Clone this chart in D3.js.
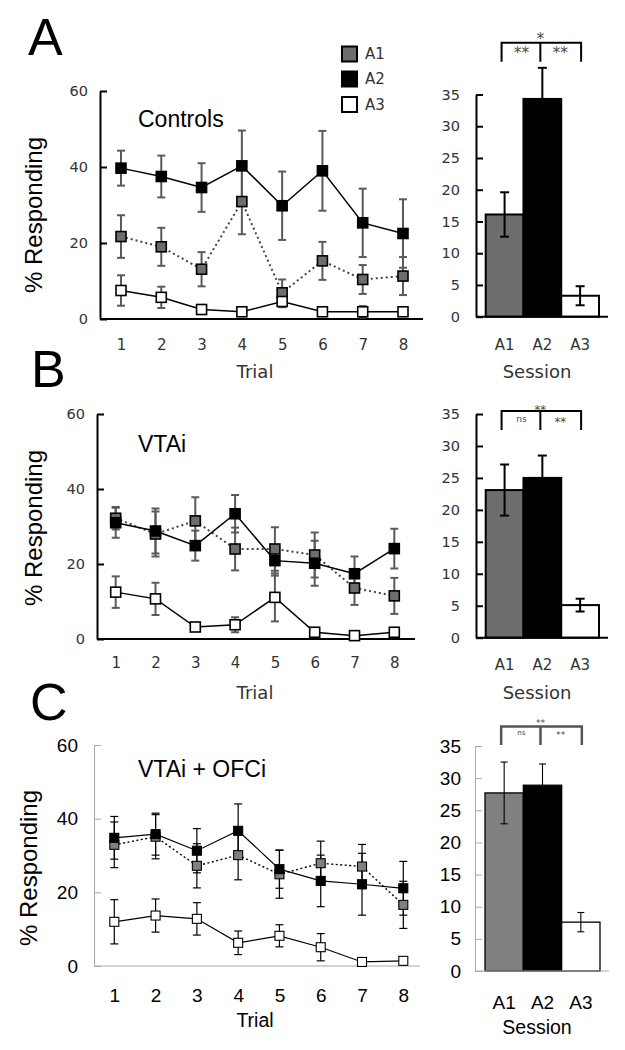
<!DOCTYPE html>
<html><head><meta charset="utf-8">
<script src="https://cdn.jsdelivr.net/npm/d3@7"></script>
<style>body{margin:0;background:#fff} svg{display:block}</style>
</head><body>
<svg id="c" width="625" height="1050"></svg>
<script>
// ---------- DATA ----------
const trials = [1, 2, 3, 4, 5, 6, 7, 8];
const sessions = ["A1", "A2", "A3"];
const lineTicks = [0, 20, 40, 60];
const barTicks = [0, 5, 10, 15, 20, 25, 30, 35];

// Panel A - Controls (per trial)
const ctrlA1 = [21.7, 19.0, 13.1, 30.9, 6.9, 15.3, 10.4, 11.3];
const ctrlA1Err = [5.6, 5.0, 4.5, 8.6, 3.5, 5.0, 3.8, 5.0];
const ctrlA2 = [39.7, 37.5, 34.6, 40.3, 29.8, 39.0, 25.3, 22.5];
const ctrlA2Err = [4.6, 5.5, 6.4, 9.3, 9.0, 10.5, 9.0, 9.0];
const ctrlA3 = [7.5, 5.7, 2.5, 1.9, 4.6, 1.9, 1.9, 1.9];
const ctrlA3Err = [4.0, 2.8, 1.2, 1.0, 1.5, 0.5, 1.5, 0.5];

// Panel B - VTAi
const vtaA1 = [32.2, 28.0, 31.5, 24.0, 24.0, 22.4, 13.6, 11.5];
const vtaA1Err = [3.0, 6.0, 6.3, 5.7, 5.8, 6.0, 4.5, 4.8];
const vtaA2 = [31.0, 28.8, 24.9, 33.4, 20.9, 20.2, 17.4, 24.1];
const vtaA2Err = [4.0, 6.0, 4.0, 5.0, 4.0, 6.0, 4.6, 5.3];
const vtaA3 = [12.5, 10.7, 3.2, 3.8, 11.1, 1.8, 0.9, 1.8];
const vtaA3Err = [4.2, 4.3, 0.8, 2.0, 6.4, 1.0, 0.5, 1.0];

// Panel C - VTAi + OFCi
const combA1 = [32.9, 35.1, 27.2, 30.1, 24.9, 27.9, 27.0, 16.6];
const combA1Err = [6.2, 6.0, 6.0, 6.7, 6.5, 6.0, 6.0, 6.4];
const combA2 = [34.8, 35.8, 31.3, 36.7, 26.3, 23.1, 22.2, 21.1];
const combA2Err = [5.8, 5.7, 6.0, 7.3, 5.2, 7.0, 8.4, 7.3];
const combA3 = [12.0, 13.7, 12.8, 6.3, 8.2, 5.1, 1.1, 1.4];
const combA3Err = [6.0, 4.5, 4.4, 3.2, 3.0, 3.7, 0.3, 0.5];

// Session means
const barCtrl = [16.1, 34.3, 3.3];
const barCtrlErr = [3.5, 4.9, 1.5];
const barVta = [23.1, 25.0, 5.1];
const barVtaErr = [4.0, 3.5, 1.0];
const barComb = [27.7, 28.9, 7.6];
const barCombErr = [4.8, 3.3, 1.5];

const sigCtrl = ["**", "**", "*"];
const sigVta = ["ns", "**", "**"];
const sigComb = ["ns", "**", "**"];

// ---------- DRAWING ----------
const svg = d3.select("#c");
const ARIAL = "Liberation Sans, Arial, sans-serif";
const DEJA = "DejaVu Sans, sans-serif";

function linePanel(cfg) {
  const g = svg.append("g");
  const x = d3.scalePoint().domain(trials).range(cfg.xRange);
  const y = d3.scaleLinear().domain([0, 60]).range([cfg.yBottom, cfg.yTop]);
  const axC = cfg.old ? "#000" : "#a8a8a8";
  const axW = cfg.old ? 2 : 1;

  const ya = g.append("g").attr("transform", `translate(${cfg.axisX},0)`)
    .call(d3.axisLeft(y).tickValues(lineTicks).tickSizeInner(-7).tickSizeOuter(0).tickPadding(cfg.yPad));
  ya.select(".domain").attr("stroke", axC).attr("stroke-width", axW);
  ya.selectAll(".tick line").attr("stroke", axC).attr("stroke-width", axW);
  ya.selectAll("text").attr("font-family", cfg.font).attr("font-size", cfg.yFs).attr("fill", cfg.txt);

  const xa = g.append("g").attr("transform", `translate(0,${cfg.yBottom})`)
    .call(d3.axisBottom(x).tickSize(0));
  xa.select(".domain").remove();
  xa.selectAll("text").attr("y", cfg.xLabY - cfg.yBottom).attr("dy", "0.36em")
    .attr("font-family", cfg.font).attr("font-size", cfg.xFs).attr("fill", cfg.txt);
  g.append("line").attr("x1", cfg.axisX).attr("x2", cfg.xEnd)
    .attr("y1", cfg.yBottom).attr("y2", cfg.yBottom).attr("stroke", axC).attr("stroke-width", axW);

  g.append("text").attr("x", 255).attr("y", cfg.titleY).attr("dy", "0.36em").attr("text-anchor", "middle")
    .attr("font-family", cfg.font).attr("font-size", cfg.titleFs).attr("fill", cfg.txt).text("Trial");
  g.append("text").attr("transform", `translate(${cfg.ylabX},${cfg.ylabY}) rotate(-90)`)
    .attr("text-anchor", "middle").attr("dy", "0.36em")
    .attr("font-family", ARIAL).attr("font-size", 24).attr("fill", "#000").text("% Responding");
  g.append("text").attr("x", 138).attr("y", cfg.condY).attr("font-family", ARIAL)
    .attr("font-size", 23).attr("fill", "#000").text(cfg.cond);

  const series = [
    {v: cfg.a1, e: cfg.a1e, fill: cfg.grey, line: "dot"},
    {v: cfg.a3, e: cfg.a3e, fill: "#fff", line: "solid"},
    {v: cfg.a2, e: cfg.a2e, fill: "#000", line: "solid"}
  ];
  const errC = cfg.old ? "#5a5a5a" : "#000";
  const errW = cfg.old ? 2 : 1.2;
  const cap = 4;
  series.forEach(s => {
    s.v.forEach((v, i) => {
      const cx = x(trials[i]);
      const t = y(v + s.e[i]), b = y(Math.max(0, v - s.e[i]));
      g.append("line").attr("x1", cx).attr("x2", cx).attr("y1", t).attr("y2", b)
        .attr("stroke", errC).attr("stroke-width", errW);
      [t, b].forEach(yy => g.append("line").attr("x1", cx - cap).attr("x2", cx + cap)
        .attr("y1", yy).attr("y2", yy).attr("stroke", errC).attr("stroke-width", errW));
    });
  });
  const lg = d3.line().x((d, i) => x(trials[i])).y(d => y(d));
  series.forEach(s => {
    const p = g.append("path").attr("d", lg(s.v)).attr("fill", "none");
    if (s.line === "dot") {
      p.attr("stroke", cfg.old ? "#444" : "#000").attr("stroke-width", cfg.old ? 2 : 1.4)
       .attr("stroke-dasharray", cfg.old ? "2,3" : "2,2.5");
    } else {
      p.attr("stroke", "#000").attr("stroke-width", cfg.old ? 1.5 : 1.2);
    }
  });
  const ms = cfg.old ? 10 : 9;
  series.forEach(s => {
    g.selectAll(null).data(s.v).enter().append("rect")
      .attr("x", (d, i) => x(trials[i]) - ms / 2).attr("y", d => y(d) - ms / 2)
      .attr("width", ms).attr("height", ms).attr("fill", s.fill)
      .attr("stroke", "#000").attr("stroke-width", cfg.old ? 1.6 : 1.1);
  });
}

function barPanel(cfg) {
  const g = svg.append("g");
  const x = d3.scaleBand().domain(sessions).range(cfg.xRange).padding(0);
  const y = d3.scaleLinear().domain([0, 35]).range([cfg.yBottom, cfg.yTop]);
  const axC = cfg.old ? "#000" : "#a8a8a8";
  const axW = cfg.old ? 2 : 1;
  const fills = [cfg.grey, "#000", "#fff"];

  g.selectAll(null).data(cfg.v).enter().append("rect")
    .attr("x", (d, i) => x(sessions[i])).attr("y", d => y(d))
    .attr("width", x.bandwidth()).attr("height", d => cfg.yBottom - y(d))
    .attr("fill", (d, i) => fills[i]).attr("stroke", "#000").attr("stroke-width", cfg.old ? 2 : 1.3);

  const ya = g.append("g").attr("transform", `translate(${cfg.axisX},0)`)
    .call(d3.axisLeft(y).tickValues(barTicks).tickSizeInner(-7).tickSizeOuter(0).tickPadding(cfg.yPad));
  ya.select(".domain").attr("stroke", axC).attr("stroke-width", axW);
  ya.selectAll(".tick line").attr("stroke", axC).attr("stroke-width", axW);
  ya.selectAll("text").attr("font-family", cfg.font).attr("font-size", cfg.yFs).attr("fill", cfg.txt);

  const xa = g.append("g").attr("transform", `translate(0,${cfg.yBottom})`)
    .call(d3.axisBottom(x).tickSize(0));
  xa.select(".domain").remove();
  xa.selectAll("text").attr("y", cfg.xLabY - cfg.yBottom).attr("dy", "0.36em")
    .attr("font-family", cfg.font).attr("font-size", cfg.xFs).attr("fill", cfg.txt);
  g.append("line").attr("x1", cfg.axisX).attr("x2", cfg.xEnd)
    .attr("y1", cfg.yBottom).attr("y2", cfg.yBottom).attr("stroke", axC).attr("stroke-width", axW);

  g.append("text").attr("x", 537).attr("y", cfg.titleY).attr("dy", "0.36em").attr("text-anchor", "middle")
    .attr("font-family", cfg.font).attr("font-size", cfg.titleFs).attr("fill", cfg.txt).text("Session");

  const errW = cfg.old ? 2 : 1.1;
  const cap = cfg.old ? 4.5 : 3.5;
  cfg.v.forEach((v, i) => {
    const cx = x(sessions[i]) + x.bandwidth() / 2;
    const t = y(v + cfg.e[i]), b = y(v - cfg.e[i]);
    g.append("line").attr("x1", cx).attr("x2", cx).attr("y1", t).attr("y2", b)
      .attr("stroke", "#000").attr("stroke-width", errW);
    [t, b].forEach(yy => g.append("line").attr("x1", cx - cap).attr("x2", cx + cap)
      .attr("y1", yy).attr("y2", yy).attr("stroke", "#000").attr("stroke-width", errW));
  });

  const c = sessions.map(s => x(s) + x.bandwidth() / 2);
  const bC = cfg.old ? "#000" : "#555";
  const bW = cfg.old ? 2 : 2.5;
  g.append("path").attr("fill", "none").attr("stroke", bC).attr("stroke-width", bW)
    .attr("d", `M${c[0] - 3},${cfg.brBot} V${cfg.brTop} H${c[2] + 1} V${cfg.brBot} M${c[1] - 2},${cfg.brTop} V${cfg.brBot}`);
  const lx = [(c[0] + c[1]) / 2 - 2, (c[1] + c[2]) / 2 - 1, c[1] - 2];
  const ly = [cfg.sigY, cfg.sigY, cfg.sigTopY];
  cfg.sig.forEach((s, i) => {
    const star = s.indexOf("*") >= 0;
    g.append("text").attr("x", lx[i]).attr("y", ly[i]).attr("dy", star ? "0.6em" : "0.28em")
      .attr("text-anchor", "middle")
      .attr("font-family", DEJA).attr("font-size", star ? cfg.sigFs * 1.3 : cfg.sigFs)
      .attr("fill", "#4a4a4a").text(s);
  });
}

function letter(t, x, y) {
  svg.append("text").attr("x", x).attr("y", y).attr("font-family", ARIAL)
    .attr("font-size", 52).attr("fill", "#000").text(t);
}

const oldStyle = {old: true, font: DEJA, txt: "#333", yFs: 14.5, xFs: 15, titleFs: 18, grey: "#6d6d6d"};
const newStyle = {old: false, font: ARIAL, txt: "#000", yFs: 19, xFs: 19, titleFs: 19.5, grey: "#808080"};

// Panel A
letter("A", 28, 55);
linePanel(Object.assign({}, oldStyle, {
  xRange: [121, 403], axisX: 100, xEnd: 423, yBottom: 319, yTop: 91, yPad: 12,
  xLabY: 345, titleY: 372, ylabX: 33, ylabY: 215, condY: 127, cond: "Controls",
  a1: ctrlA1, a1e: ctrlA1Err, a2: ctrlA2, a2e: ctrlA2Err, a3: ctrlA3, a3e: ctrlA3Err
}));
barPanel(Object.assign({}, oldStyle, {
  xRange: [485.7, 599], axisX: 476, xEnd: 608, yBottom: 316.7, yTop: 94.5, yPad: 16,
  xLabY: 345, titleY: 372, v: barCtrl, e: barCtrlErr,
  brTop: 42.7, brBot: 61.7, sigY: 49, sigTopY: 35, sigFs: 12, sig: sigCtrl
}));

// Panel B
letter("B", 31, 387);
linePanel(Object.assign({}, oldStyle, {
  xRange: [115.7, 394.3], axisX: 97, xEnd: 415, yBottom: 639, yTop: 414, yPad: 12,
  xLabY: 663, titleY: 693, ylabX: 33, ylabY: 528, condY: 452, cond: "VTAi",
  a1: vtaA1, a1e: vtaA1Err, a2: vtaA2, a2e: vtaA2Err, a3: vtaA3, a3e: vtaA3Err
}));
barPanel(Object.assign({}, oldStyle, {
  xRange: [485.7, 599], axisX: 476, xEnd: 608, yBottom: 637.7, yTop: 414, yPad: 16,
  xLabY: 665, titleY: 693, v: barVta, e: barVtaErr,
  brTop: 411, brBot: 430, sigY: 419, sigTopY: 407, sigFs: 9, sig: sigVta
}));

// Panel C
letter("C", 30, 720);
linePanel(Object.assign({}, newStyle, {
  xRange: [114.3, 403.3], axisX: 94, xEnd: 420, yBottom: 966, yTop: 745, yPad: 16,
  xLabY: 995, titleY: 1020, ylabX: 28, ylabY: 868, condY: 777, cond: "VTAi + OFCi",
  a1: combA1, a1e: combA1Err, a2: combA2, a2e: combA2Err, a3: combA3, a3e: combA3Err
}));
barPanel(Object.assign({}, newStyle, {
  xRange: [485, 600], axisX: 475, xEnd: 609, yBottom: 971, yTop: 746, yPad: 14,
  xLabY: 1002, titleY: 1026.5, v: barComb, e: barCombErr,
  brTop: 726.5, brBot: 745, sigY: 733, sigTopY: 721, sigFs: 7, sig: sigComb
}));

// Legend
const legendItems = ["A1", "A2", "A3"];
const legendFill = ["#6d6d6d", "#000", "#fff"];
const lg = svg.append("g");
legendItems.forEach((t, i) => {
  const cy = [54, 79, 104.5][i];
  lg.append("rect").attr("x", 342).attr("y", cy - 7.5).attr("width", 15).attr("height", 15)
    .attr("fill", legendFill[i]).attr("stroke", "#000").attr("stroke-width", 2);
  lg.append("text").attr("x", 365).attr("y", cy).attr("dy", "0.36em").attr("font-family", DEJA)
    .attr("font-size", 15).attr("fill", "#333").text(t);
});
</script>
</body></html>
